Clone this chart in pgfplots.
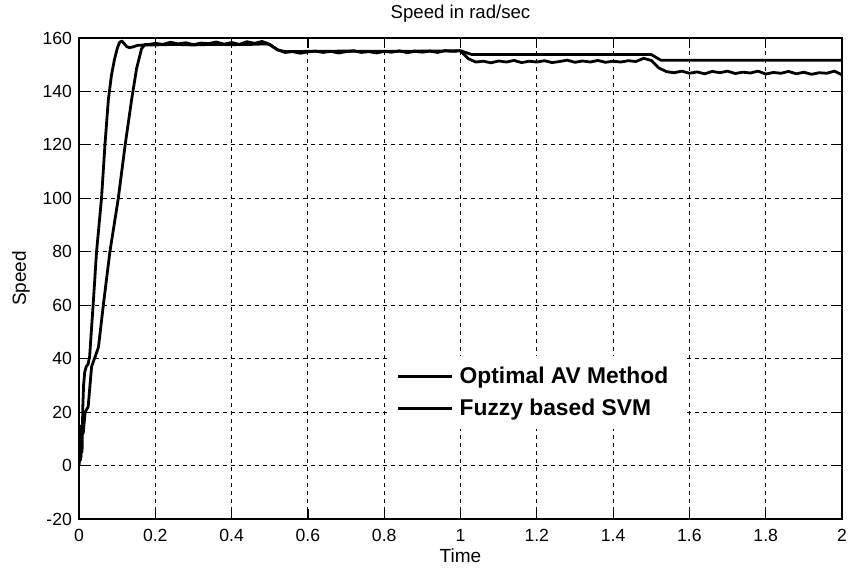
\documentclass[border=0pt]{standalone}
\usepackage{pgfplots}
\pgfplotsset{compat=1.18}
\usepackage{fontspec}
\setmainfont{Liberation Sans}
\pgfplotstableread{
t v
0 0
0.002 9
0.004 2
0.006 15
0.008 5
0.010 22
0.012 30
0.015 35
0.019 37
0.024 38
0.028 41
0.037 60
0.046 80
0.059 100
0.068 120
0.077 137
0.085 146
0.093 152
0.100 156
0.106 158.3
0.112 158.9
0.118 158.0
0.125 156.8
0.132 156.4
0.140 156.6
0.155 157.3
0.20 157.4
0.25 157.6
0.30 157.4
0.35 157.6
0.40 157.5
0.45 157.6
0.49 157.8
0.50 157.5
0.52 155.6
0.54 154.9
0.60 155.0
0.70 155.1
0.80 155.0
0.90 155.1
1.00 155.2
1.03 153.8
1.10 153.8
1.20 153.8
1.30 153.8
1.40 153.8
1.50 153.8
1.525 151.7
1.60 151.7
1.70 151.7
1.80 151.7
1.90 151.7
2.00 151.7
}\fastdata
\pgfplotstableread{
t v
0 0
0.003 10
0.005 3
0.008 15
0.011 12
0.016 20
0.024 22
0.033 37
0.042 40.6
0.051 44.3
0.064 60.3
0.081 80
0.103 100
0.121 120
0.138 137
0.151 148.6
0.164 156
0.173 157.6
0.18 157.5
0.20 158.0
0.22 157.6
0.24 158.4
0.26 157.8
0.28 158.2
0.30 157.5
0.32 158.1
0.34 157.9
0.36 158.5
0.38 157.7
0.40 158.3
0.42 157.6
0.44 158.6
0.46 158.0
0.48 158.7
0.49 158.2
0.50 157.6
0.52 155.6
0.54 154.6
0.56 154.9
0.58 154.3
0.60 154.8
0.62 155.1
0.64 154.6
0.66 155.0
0.68 154.4
0.70 154.9
0.72 155.2
0.74 154.6
0.76 154.9
0.78 154.4
0.80 155.0
0.82 154.7
0.84 155.2
0.86 154.5
0.88 155.0
0.90 154.7
0.92 155.1
0.94 154.6
0.96 155.3
0.98 155.0
1.00 155.2
1.02 152.3
1.04 151.0
1.06 151.3
1.08 150.7
1.10 151.4
1.12 151.0
1.14 151.6
1.16 150.8
1.18 151.3
1.20 151.0
1.22 151.5
1.24 150.8
1.26 151.2
1.28 151.7
1.30 150.9
1.32 151.4
1.34 151.0
1.36 151.6
1.38 150.9
1.40 151.3
1.42 151.0
1.44 151.5
1.46 151.2
1.48 152.4
1.50 151.6
1.52 148.8
1.54 147.4
1.56 147.0
1.58 147.6
1.60 146.8
1.62 147.3
1.64 146.6
1.66 147.5
1.68 147.0
1.70 147.6
1.72 146.7
1.74 147.2
1.76 146.9
1.78 147.6
1.80 146.5
1.82 147.1
1.84 146.8
1.86 147.5
1.88 146.6
1.90 147.2
1.92 146.4
1.94 147.0
1.96 146.8
1.98 147.6
2.00 146.2
}\slowdata
\begin{document}
\begin{tikzpicture}
\useasboundingbox (-39.5pt,-26pt) rectangle (385.5pt,259.5pt);
\begin{axis}[
  at={(0pt,0pt)}, anchor=south west,
  scale only axis, width=381.5pt, height=240.5pt,
  xmin=0, xmax=2, ymin=-20, ymax=160,
  xtick={0,0.2,0.4,0.6,0.8,1,1.2,1.4,1.6,1.8,2},
  ytick={-20,0,20,40,60,80,100,120,140,160},
  xticklabel style={/pgf/number format/fixed, yshift=-1.5pt},
  /pgf/number format/assume math mode=true,
  tick align=inside, major tick length=5pt,
  tick style={black, line width=0.6pt},
  axis line style={black, line width=0.6pt},
  grid=major,
  major grid style={black, line width=0.55pt, dash pattern=on 2.2pt off 1.8pt},
  ticklabel style={font=\fontsize{8.8}{10}\selectfont},
  title={Speed in rad/sec},
  title style={at={(axis description cs:0.5,1)}, anchor=base, yshift=3.5pt, font=\fontsize{9.3}{11}\selectfont},
  xlabel={Time},
  xlabel style={at={(axis description cs:0.5,0)}, anchor=base, yshift=-22pt, font=\fontsize{9.5}{11}\selectfont},
  ylabel={Speed},
  ylabel style={at={(axis description cs:-0.076,0.5)}, anchor=center, font=\fontsize{9.5}{11}\selectfont},
  legend style={draw=none, fill=white, at={(axis cs:0.805,41)}, anchor=north west,
    inner xsep=5pt, inner ysep=4pt, row sep=4pt, font=\bfseries\fontsize{11.4}{13}\selectfont,
    nodes={inner sep=1.2pt}},
  legend cell align=left,
  legend image code/.code={\draw[line width=1.4pt] (0pt,0pt) -- (27pt,0pt); \path (29pt,0pt);},
]
\addplot[black, line width=1.4pt, line join=round] table[x=t,y=v] {\fastdata};
\addlegendentry{Optimal AV Method\hspace*{2pt}}
\addplot[black, line width=1.4pt, line join=round] table[x=t,y=v] {\slowdata};
\addlegendentry{Fuzzy based SVM}
\end{axis}
\end{tikzpicture}
\end{document}
